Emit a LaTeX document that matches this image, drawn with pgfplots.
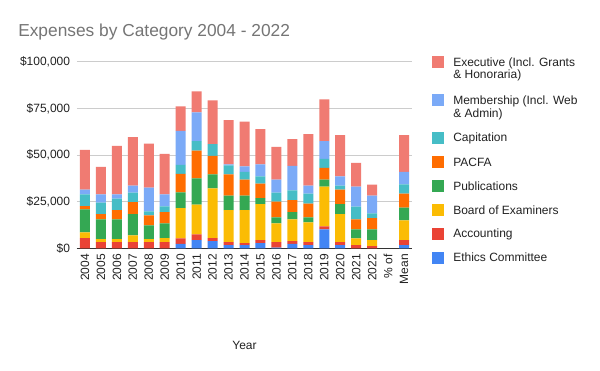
\documentclass[border=0pt]{standalone}
\usepackage{fontspec}
\setmainfont{Liberation Sans}
\usepackage{pgfplots}
\usepackage{pgfplotstable}
\pgfplotsset{compat=1.18}
\definecolor{cEth}{HTML}{4285F4}
\definecolor{cAcc}{HTML}{EA4335}
\definecolor{cBrd}{HTML}{FBBC04}
\definecolor{cPub}{HTML}{34A853}
\definecolor{cPAC}{HTML}{FF6D01}
\definecolor{cCap}{HTML}{46BDC6}
\definecolor{cMem}{HTML}{7BAAF7}
\definecolor{cExe}{HTML}{F07B72}
\definecolor{cTitle}{HTML}{757575}
\definecolor{cText}{HTML}{222222}
\definecolor{cGrid}{HTML}{CCCCCC}
\newcommand\legtxt[1]{\begin{tabular}[t]{@{}l@{}}#1\end{tabular}}
\newcommand\legentry[3]{%
  \fill[#1] (324,#2-4.5) rectangle (333,#2+4.5);
  \node[anchor=base west, inner sep=0pt, text=cText, font=\fontsize{9}{9.5}\selectfont] at (339.75,#2-3.22) {\legtxt{#3}};}

\pgfplotstableread{
x Eth Acc Brd Pub PAC Cap Mem Exe
0 0 5500 3200 12230 1770 6380 2480 21280
1 0 3370 1600 10640 2840 6200 4430 14720
2 0 3370 1600 10640 4960 6200 2300 25890
3 0 3370 3720 11350 6380 5140 3720 26060
4 0 3370 1600 7450 5320 2130 12770 23580
5 0 3370 2130 7980 6030 3010 6560 21630
6 2480 3010 16130 8510 9930 4790 18260 13120
7 4430 3190 15960 14010 14890 5140 15430 11170
8 3900 1600 26770 7450 9930 6380 0 23400
9 1770 1600 17200 7800 11350 4790 530 23760
10 1770 1060 17730 7800 8510 4260 2840 24110
11 2840 1600 19330 3190 7800 3900 6380 18970
12 530 2840 10110 3190 8510 4790 6910 17550
13 2480 1420 11700 3900 6380 5320 13120 14360
14 1770 1600 10640 2660 7450 5320 4260 27660
15 10280 1600 21280 3720 6380 4790 9570 22340
16 1770 1600 15070 5320 7800 2130 4960 22160
17 0 1770 3720 4790 5320 6910 10640 12770
18 0 1240 3190 5850 6030 2480 9570 5850
20 1770 2660 10640 6910 7450 4960 6740 19680
}\data

\begin{document}
\begin{tikzpicture}[x=1pt,y=1pt]
\fill[white] (0,0) rectangle (450,278.25);
\useasboundingbox (0,0) rectangle (450,278.25);
\node[anchor=base west, font=\fontsize{13}{15}\selectfont, text=cTitle, inner sep=0pt] at (13.5,250.5) {Expenses by Category 2004 - 2022};
\begin{axis}[
  at={(57.75pt,91.875pt)}, anchor=south west,
  width=251.25pt, height=139.875pt, scale only axis,
  ybar stacked, bar width=7.5pt,
  xmin=-0.5, xmax=20.5, ymin=0, ymax=100000,
  xtick={0,...,20},
  xticklabels={2004,2005,2006,2007,2008,2009,2010,2011,2012,2013,2014,2015,2016,2017,2018,2019,2020,2021,2022,\% of,Mean},
  ytick={0,25000,50000,75000,100000},
  scaled y ticks=false,
  /pgf/number format/assume math mode=true,
  yticklabel={\$\pgfmathprintnumber[fixed,1000 sep={,}]{\tick}},
  ticklabel style={font=\fontsize{9}{11}\selectfont, text=cText},
  xticklabel style={yshift=-4pt, rotate=90, anchor=east, inner sep=0pt},
  yticklabel style={anchor=east, inner sep=0pt, xshift=-5pt},
  major tick length=0pt,
  tick style={draw=none},
  ymajorgrids, grid style={draw=cGrid, line width=0.75pt},
  axis x line*=bottom, axis y line*=left,
  y axis line style={draw=none},
  x axis line style={draw=black!80, line width=0.75pt},
  xlabel={Year},
  xlabel style={at={(axis description cs:0.5,0)}, anchor=center, yshift=-72.4pt, font=\fontsize{9}{11}\selectfont, text=cText},
  every axis plot/.append style={draw=none},
]
\addplot+[fill=cEth] table[x=x,y=Eth]{\data};
\addplot+[fill=cAcc] table[x=x,y=Acc]{\data};
\addplot+[fill=cBrd] table[x=x,y=Brd]{\data};
\addplot+[fill=cPub] table[x=x,y=Pub]{\data};
\addplot+[fill=cPAC] table[x=x,y=PAC]{\data};
\addplot+[fill=cCap] table[x=x,y=Cap]{\data};
\addplot+[fill=cMem] table[x=x,y=Mem]{\data};
\addplot+[fill=cExe] table[x=x,y=Exe]{\data};
\end{axis}
\legentry{cExe}{231.75}{Executive (Incl. Grants\\\& Honoraria)}
\legentry{cMem}{203.0}{Membership (Incl. Web\\\& Admin)}
\legentry{cCap}{175.0}{Capitation}
\legentry{cPAC}{156.75}{PACFA}
\legentry{cPub}{138.75}{Publications}
\legentry{cBrd}{120.75}{Board of Examiners}
\legentry{cAcc}{103.1}{Accounting}
\legentry{cEth}{85.1}{Ethics Committee}
\end{tikzpicture}
\end{document}
